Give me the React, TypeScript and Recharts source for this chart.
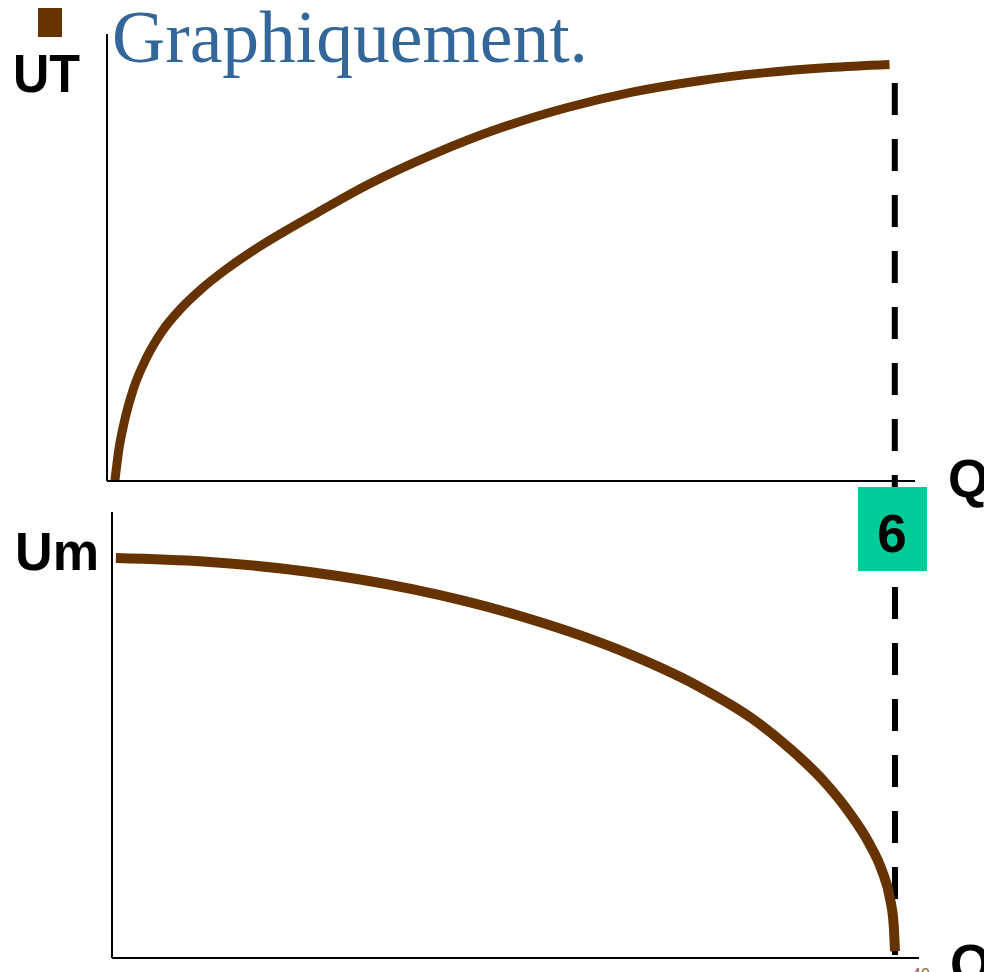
import { LineChart, Line, XAxis, YAxis, ReferenceLine } from "recharts"

// total utility (top panel)
const utQ = [0.06, 0.09, 0.13, 0.2, 0.3, 0.42, 0.56, 0.72, 0.9, 1.1, 1.35, 1.6, 2.0, 2.5, 3.0, 3.5, 4.0, 4.5, 5.0, 5.5, 5.96]
const utValues = [0, 7, 13, 20.5, 27.5, 33.5, 38.5, 43, 47.2, 51.3, 55.8, 60, 66.5, 73.3, 79, 83.5, 87, 89.5, 91.3, 92.5, 93.2]

// marginal utility (bottom panel)
const umQ = [0.03, 0.7, 1.5, 2.3, 3.1, 3.9, 4.5, 4.9, 5.2, 5.45, 5.65, 5.8, 5.9, 5.96, 5.99, 6.0]
const umValues = [89.7, 88.9, 86.6, 82.7, 76.9, 68.9, 60.8, 53.8, 46.8, 39.8, 32.6, 25.8, 19.6, 13.6, 7.4, 1.5]

const satiationQ = 6
const titleText = "Graphiquement."
const yLabelTop = "UT"
const yLabelBottom = "Um"
const xLabel = "Q"

const utData = utQ.map((q, i) => ({ q, v: utValues[i] }))
const umData = umQ.map((q, i) => ({ q, v: umValues[i] }))

const brown = "#663300"
const sans = "'Liberation Sans', Arial, sans-serif"
const axisStyle = { stroke: "#000", strokeWidth: 2 }

export default function App() {
  return (
    <div style={{ position: "absolute", left: 0, top: 0, width: 984, height: 972, overflow: "hidden", background: "#fff" }}>
      <div style={{ position: "absolute", left: 0, top: 0 }}>
        <LineChart width={984} height={520} data={utData} margin={{ top: 34, right: 69, bottom: 38, left: 106 }}>
          <XAxis type="number" dataKey="q" domain={[0, 6.154]} allowDataOverflow height={1} tick={false} tickLine={false} axisLine={axisStyle} />
          <YAxis type="number" domain={[0, 100]} allowDataOverflow width={1} tick={false} tickLine={false} axisLine={axisStyle} />
          <ReferenceLine
            segment={[{ x: satiationQ, y: 89.04 }, { x: satiationQ, y: -5.82 }]}
            stroke="#000"
            strokeWidth={6}
            strokeDasharray="32 24"
            ifOverflow="visible"
          />
          <Line type="monotone" dataKey="v" stroke={brown} strokeWidth={9} dot={false} isAnimationActive={false} />
        </LineChart>
      </div>
      <div style={{ position: "absolute", left: 0, top: 500 }}>
        <LineChart width={984} height={472} data={umData} margin={{ top: 12, right: 65, bottom: 13, left: 111 }}>
          <XAxis type="number" dataKey="q" domain={[0, 6.184]} allowDataOverflow height={1} tick={false} tickLine={false} axisLine={axisStyle} />
          <YAxis type="number" domain={[0, 100]} allowDataOverflow width={1} tick={false} tickLine={false} axisLine={axisStyle} />
          <ReferenceLine
            segment={[{ x: satiationQ, y: 83.18 }, { x: satiationQ, y: 0.67 }]}
            stroke="#000"
            strokeWidth={6}
            strokeDasharray="32 24"
            ifOverflow="visible"
          />
          <Line type="monotone" dataKey="v" stroke={brown} strokeWidth={10} dot={false} isAnimationActive={false} />
        </LineChart>
      </div>
      <svg width={984} height={972} style={{ position: "absolute", left: 0, top: 0, pointerEvents: "none" }}>
        <rect x={38} y={8} width={24} height={29} fill={brown} />
        <text x={112} y={62} fontFamily="'Liberation Serif', 'Times New Roman', serif" fontSize={74} fill="#336699" textLength={476} lengthAdjust="spacingAndGlyphs">
          {titleText}
        </text>
        <text x={13} y={92} fontFamily={sans} fontWeight="bold" fontSize={53} fill="#000" textLength={67} lengthAdjust="spacingAndGlyphs">
          {yLabelTop}
        </text>
        <text x={15} y={570} fontFamily={sans} fontWeight="bold" fontSize={53} fill="#000" textLength={84} lengthAdjust="spacingAndGlyphs">
          {yLabelBottom}
        </text>
        <text x={948} y={497} fontFamily={sans} fontWeight="bold" fontSize={53} fill="#000">
          {xLabel}
        </text>
        <text x={950} y={982} fontFamily={sans} fontWeight="bold" fontSize={53} fill="#000">
          {xLabel}
        </text>
        <rect x={858} y={487} width={69} height={84} fill="#00CC99" />
        <text x={892} y={552} textAnchor="middle" fontFamily={sans} fontWeight="bold" fontSize={53} fill="#000">
          {String(satiationQ)}
        </text>
        <text x={912} y={980} fontFamily={sans} fontSize={16} fill="#996633">
          40
        </text>
      </svg>
    </div>
  )
}
